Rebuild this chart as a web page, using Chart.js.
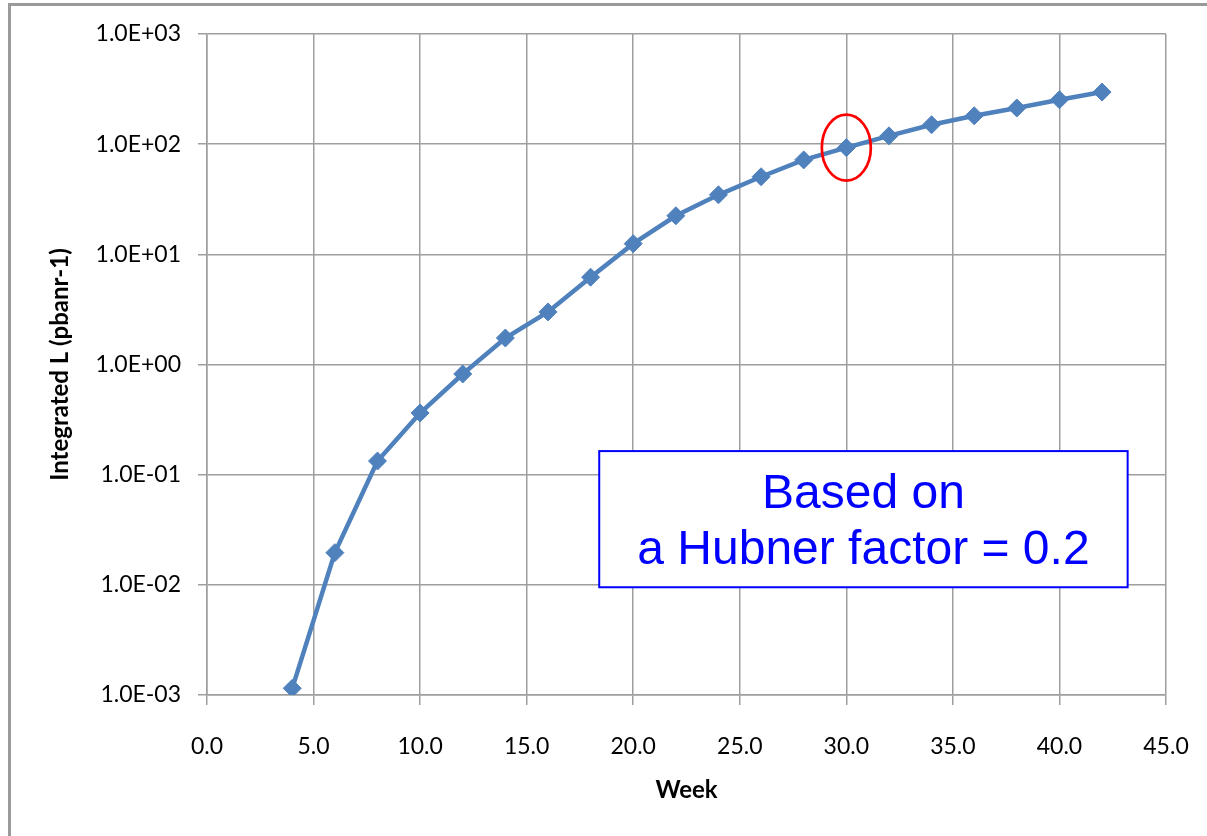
<!DOCTYPE html>
<html>
<head>
<meta charset="utf-8">
<script src="https://cdn.jsdelivr.net/npm/chart.js@4/dist/chart.umd.min.js"></script>
<style>
  html, body { margin: 0; padding: 0; background: #fff; }
  #wrap { position: relative; width: 1207px; height: 836px; }
  canvas { display: block; }
</style>
</head>
<body>
<div id="wrap"><canvas id="c" width="1207" height="836"></canvas></div>
<script>
// ---- data ----
const weeks = [4, 6, 8, 10, 12, 14, 16, 18, 20, 22, 24, 26, 28, 30, 32, 34, 36, 38, 40, 42];
const integratedL = [0.00115, 0.0196, 0.133, 0.363, 0.82, 1.74, 3.0, 6.2, 12.5, 22.4, 34.7, 50.6, 72, 93, 119, 150, 181, 213, 253, 297];
const xTickValues = [0, 5, 10, 15, 20, 25, 30, 35, 40, 45];
const xTickLabels = ['0.0', '5.0', '10.0', '15.0', '20.0', '25.0', '30.0', '35.0', '40.0', '45.0'];
const yTickValues = [0.001, 0.01, 0.1, 1, 10, 100, 1000];
const yTickLabels = ['1.0E-03', '1.0E-02', '1.0E-01', '1.0E+00', '1.0E+01', '1.0E+02', '1.0E+03'];
const xTitle = 'Week';
const yTitle = 'Integrated L (pbanr-1)';
const noteLines = ['Based on', 'a Hubner factor = 0.2'];
const highlightWeek = 30;

const points = weeks.map((w, i) => ({ x: w, y: integratedL[i] }));
const gridColor = '#9e9e9e';
const tickFont = { family: 'Lato', size: 23 };
const titleFont = { family: 'Lato', size: 24, weight: 'bold' };

const decorPlugin = {
  id: 'decor',
  beforeDraw(chart) {
    const ctx = chart.ctx;
    ctx.save();
    ctx.strokeStyle = '#9a9a9a';
    ctx.lineWidth = 3;
    ctx.beginPath();
    ctx.moveTo(9.5, chart.height);
    ctx.lineTo(9.5, 4.5);
    ctx.lineTo(chart.width, 4.5);
    ctx.stroke();
    ctx.restore();
  },
  afterDatasetsDraw(chart) {
    const ctx = chart.ctx;
    const xs = chart.scales.x, ys = chart.scales.y;
    const ca = chart.chartArea;
    // highlight ellipse around the week-30 point
    const idx = weeks.indexOf(highlightWeek);
    const cx = xs.getPixelForValue(weeks[idx]);
    const cy = ys.getPixelForValue(integratedL[idx]);
    ctx.save();
    ctx.strokeStyle = '#ff0000';
    ctx.lineWidth = 2.7;
    ctx.beginPath();
    ctx.ellipse(cx, cy, 24.5, 33, 0, 0, Math.PI * 2);
    ctx.stroke();
    // note box
    const w = ca.right - ca.left, h = ca.bottom - ca.top;
    const bx = ca.left + w * 0.409, bw = w * 0.551;
    const by = ca.top + h * 0.631, bh = h * 0.206;
    ctx.fillStyle = '#ffffff';
    ctx.fillRect(bx, by, bw, bh);
    ctx.strokeStyle = '#0000ff';
    ctx.lineWidth = 2;
    ctx.strokeRect(bx, by, bw, bh);
    ctx.fillStyle = '#0000ff';
    ctx.font = '48px "Liberation Sans", Arial, sans-serif';
    ctx.textAlign = 'center';
    ctx.textBaseline = 'middle';
    ctx.fillText(noteLines[0], bx + bw / 2, by + bh * 0.32);
    ctx.fillText(noteLines[1], bx + bw / 2, by + bh * 0.735);
    ctx.restore();
  }
};

new Chart(document.getElementById('c'), {
  type: 'line',
  data: {
    datasets: [{
      data: points,
      borderColor: '#4f81bd',
      backgroundColor: '#4f81bd',
      borderWidth: 4.5,
      pointStyle: 'rectRot',
      pointRadius: 9,
      pointBorderWidth: 1,
      pointBorderColor: '#4f81bd',
      pointBackgroundColor: '#4f81bd',
      tension: 0,
      fill: false
    }]
  },
  options: {
    responsive: false,
    animation: false,
    events: [],
    layout: { padding: { top: 34, right: 41, left: 0, bottom: 0 } },
    plugins: { legend: { display: false }, tooltip: { enabled: false } },
    scales: {
      x: {
        type: 'linear',
        min: 0, max: 45,
        afterFit(s) { s.height = 141; s.paddingLeft = 0; s.paddingRight = 0; },
        afterBuildTicks(s) { s.ticks = xTickValues.map(v => ({ value: v })); },
        ticks: {
          callback: (v, i) => xTickLabels[i],
          font: tickFont, color: '#000', padding: 28, maxRotation: 0, autoSkip: false
        },
        grid: { color: gridColor, lineWidth: 1.5, tickLength: 10, tickColor: gridColor, tickWidth: 1.5 },
        border: { color: gridColor, width: 1.5 },
        title: { display: true, text: xTitle, font: titleFont, color: '#000', padding: { top: 0, bottom: 31 } }
      },
      y: {
        type: 'logarithmic',
        min: 0.001, max: 1000,
        afterFit(s) { s.width = 207; s.paddingTop = 0; s.paddingBottom = 0; },
        afterBuildTicks(s) { s.ticks = yTickValues.map(v => ({ value: v })); },
        ticks: {
          callback: (v, i) => yTickLabels[i],
          font: tickFont, color: '#000', padding: 17, autoSkip: false
        },
        grid: {
          color: gridColor, lineWidth: 1.5, tickLength: 9, tickColor: gridColor, tickWidth: 1.5,
          borderDash: [19, 2.5], dash: [19, 2.5], tickBorderDash: []
        },
        border: { color: gridColor, width: 1.5 },
        title: { display: true, text: yTitle, font: titleFont, color: '#000', padding: { top: 46, bottom: 0 } }
      }
    }
  },
  plugins: [decorPlugin]
});
</script>
</body>
</html>
